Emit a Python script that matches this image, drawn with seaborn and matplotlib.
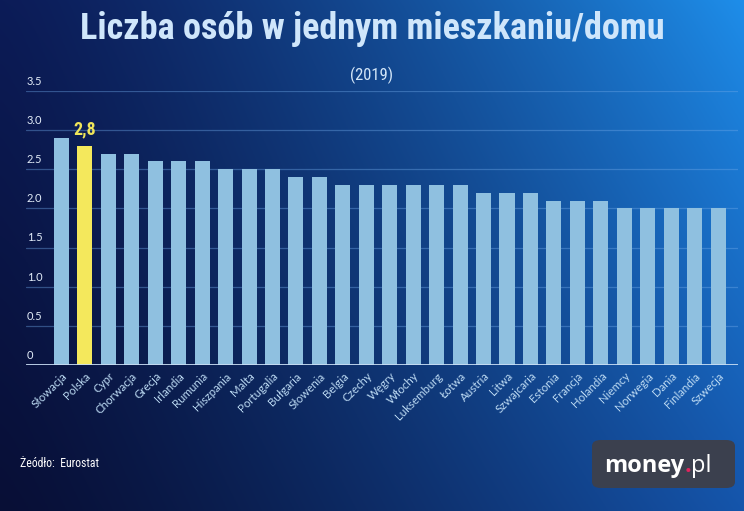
import numpy as np
import pandas as pd
import matplotlib
matplotlib.use("Agg")
import matplotlib.pyplot as plt
import seaborn as sns
from matplotlib import font_manager
from matplotlib.patches import FancyBboxPatch
from matplotlib.transforms import blended_transform_factory

countries = ["Słowacja", "Polska", "Cypr", "Chorwacja", "Grecja", "Irlandia", "Rumunia",
             "Hiszpania", "Malta", "Portugalia", "Bułgaria", "Słowenia", "Belgia", "Czechy",
             "Węgry", "Włochy", "Luksemburg", "Łotwa", "Austria", "Litwa", "Szwajcaria",
             "Estonia", "Francja", "Holandia", "Niemcy", "Norwegia", "Dania", "Finlandia", "Szwecja"]
values = [2.9, 2.8, 2.7, 2.7, 2.6, 2.6, 2.6, 2.5, 2.5, 2.5, 2.4, 2.4, 2.3, 2.3,
          2.3, 2.3, 2.3, 2.3, 2.2, 2.2, 2.2, 2.1, 2.1, 2.1, 2.0, 2.0, 2.0, 2.0, 2.0]
y_ticks = [0, 0.5, 1.0, 1.5, 2.0, 2.5, 3.0, 3.5]
y_tick_labels = ["0", "0.5", "1.0", "1.5", "2.0", "2.5", "3.0", "3.5"]
highlight = "Polska"
highlight_label = "2,8"

sns.set_theme(style="white")
names = {f.name for f in font_manager.fontManager.ttflist}
def pick(cands, default="DejaVu Sans"):
    for c in cands:
        if c in names:
            return c
    return default
cond = pick(["Liberation Sans Narrow", "Roboto Condensed", "DejaVu Sans Condensed", "Open Sans Condensed"], "Liberation Sans")
body = pick(["Lato", "Open Sans", "Noto Sans"])
plt.rcParams["font.family"] = [body, "DejaVu Sans"]

W, H = 744, 511
fig = plt.figure(figsize=(W / 100, H / 100), dpi=100)

# background gradient
bg = fig.add_axes([0, 0, 1, 1], zorder=-10)
xx, yy = np.meshgrid(np.linspace(0, 1, 400), np.linspace(0, 1, 300))  # yy=0 top
TL = np.array([0x0c, 0x1c, 0x58]) / 255
TR = np.array([0x1e, 0x8e, 0xea]) / 255
BL = np.array([0x08, 0x0f, 0x36]) / 255
BR = np.array([0x15, 0x55, 0xab]) / 255
wx = (xx ** 1.3)[..., None]
wy = (yy ** 0.9)[..., None]
img = (1 - wy) * ((1 - wx) * TL + wx * TR) + wy * ((1 - wx) * BL + wx * BR)
bg.imshow(np.clip(img, 0, 1), aspect="auto", extent=[0, 1, 0, 1], origin="upper")
bg.axis("off")

ax_left, ax_right = 26 / W, 738 / W
ax_bottom = (H - 365) / H
ax_top = (H - 91) / H
ax = fig.add_axes([ax_left, ax_bottom, ax_right - ax_left, ax_top - ax_bottom])
ax.patch.set_alpha(0)

df = pd.DataFrame({"country": countries, "value": values})
palette = {c: ("#f4e85c" if c == highlight else "#8fc0e0") for c in countries}
sns.barplot(data=df, x="country", y="value", hue="country", palette=palette,
            legend=False, width=0.64, saturation=1, ax=ax, zorder=3,
            edgecolor="none", linewidth=0)

ax.set_ylim(0, 3.5)
ax.set_xlim(-1.51, 28.85)
ax.set_xlabel("")
ax.set_ylabel("")
for s in ax.spines.values():
    s.set_visible(False)
ax.set_yticks([])
for t in y_ticks[1:]:
    ax.axhline(t, color="#6fa8e8", lw=0.9, alpha=0.4, zorder=1)
ax.axhline(0, color="#c9def4", lw=2, zorder=4)
tr = blended_transform_factory(ax.transAxes, ax.transData)
for t, lab in zip(y_ticks, y_tick_labels):
    ax.annotate(lab, xy=(0, t), xycoords=tr, xytext=(0.5, 3), textcoords="offset points",
                ha="left", va="bottom", color="#e2ecf8", fontsize=8, annotation_clip=False)

ax.set_xticks(range(len(countries)))
ax.set_xticklabels(countries, rotation=45, ha="right", rotation_mode="anchor",
                   color="#bcdaf3", fontsize=8.3)
ax.tick_params(axis="x", length=0, pad=4)

hi = countries.index(highlight)
ax.annotate(highlight_label, xy=(hi, values[hi]), xytext=(0, 5), textcoords="offset points",
            ha="center", va="bottom", color="#efe55a", fontsize=13, fontweight="bold",
            family=[cond, "DejaVu Sans"])

# titles
title = fig.text(0.5, (H - 29) / H, "Liczba osób w jednym mieszkaniu/domu", ha="center", va="center",
                 color="#cfe6fb", fontsize=27, fontweight="bold", family=[cond, "DejaVu Sans"])
fig.canvas.draw()
r = fig.canvas.get_renderer()
bb = title.get_window_extent(r)
title.set_fontsize(27 * 586 / bb.width)
fig.text(0.5, (H - 75) / H, "(2019)", ha="center", va="center", color="#d3e6f8",
         fontsize=12, family=[cond, "DejaVu Sans"])

fig.text(20 / W, (H - 463) / H, "Żeódło:  Eurostat", ha="left", va="center", color="white",
         fontsize=8.5, family=[cond, "DejaVu Sans"])

# logo
bx0, by0, bx1, by1 = 592, 440, 735, 488
box = FancyBboxPatch((bx0 / W, (H - by1) / H), (bx1 - bx0) / W, (by1 - by0) / H,
                     boxstyle="round,pad=0,rounding_size=0.012", transform=fig.transFigure,
                     facecolor="#3b404e", edgecolor="none", zorder=5)
fig.patches.append(box)
t1 = fig.text(604 / W, (H - 463) / H, "money", ha="left", va="center_baseline", color="white",
              fontsize=17, fontweight="bold", family=["Open Sans", "DejaVu Sans"], zorder=6)
fig.canvas.draw()
e1 = t1.get_window_extent(fig.canvas.get_renderer())
t2 = fig.text(e1.x1 / W, (H - 463) / H, ".", ha="left", va="center_baseline", color="#e0245e",
              fontsize=17, fontweight="bold", family=["Open Sans", "DejaVu Sans"], zorder=6)
fig.canvas.draw()
e2 = t2.get_window_extent(fig.canvas.get_renderer())
fig.text(e2.x1 / W, (H - 463) / H, "pl", ha="left", va="center_baseline", color="white",
         fontsize=17, fontweight="normal", family=["Open Sans", "DejaVu Sans"], zorder=6)

fig.savefig("out.png", dpi=100)
